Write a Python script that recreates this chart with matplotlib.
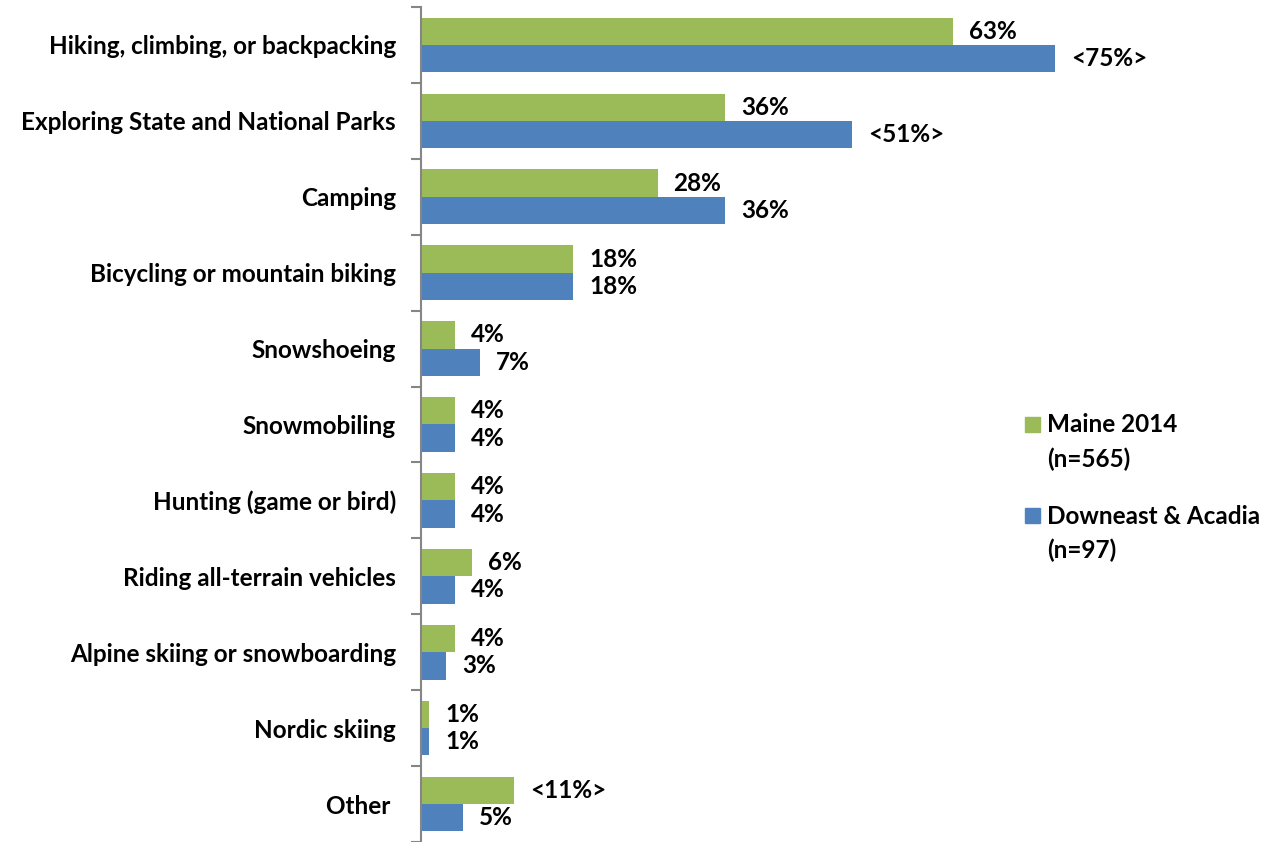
import matplotlib.pyplot as plt
import numpy as np
from matplotlib.patches import Rectangle

plt.rcParams['font.family'] = ['Lato', 'DejaVu Sans']
plt.rcParams['font.weight'] = 'bold'

# activities, top to bottom
activities = [
    'Hiking, climbing, or backpacking',
    'Exploring State and National Parks',
    'Camping',
    'Bicycling or mountain biking',
    'Snowshoeing',
    'Snowmobiling',
    'Hunting (game or bird)',
    'Riding all-terrain vehicles',
    'Alpine skiing or snowboarding',
    'Nordic skiing',
    'Other ',
]
maine = [63, 36, 28, 18, 4, 4, 4, 6, 4, 1, 11]
downeast = [75, 51, 36, 18, 7, 4, 4, 4, 3, 1, 5]
# significant differences are shown as <xx%>
maine_sig = [False, False, False, False, False, False, False, False, False, False, True]
downeast_sig = [True, True, False, False, False, False, False, False, False, False, False]

green = '#9BBB59'
blue = '#4F81BD'
fs = 17.5

fig = plt.figure(figsize=(12.66, 8.42), dpi=100)
ax = fig.add_axes([421 / 1266, 0.0, 845 / 1266, 835 / 842])

n = len(activities)
y = np.arange(n)
h = 0.36

ax.barh(y - h / 2, maine, height=h, color=green, edgecolor='none')
ax.barh(y + h / 2, downeast, height=h, color=blue, edgecolor='none')


def fmt(v, sig):
    s = f'{v}%'
    return f'<{s}>' if sig else s


for i in range(n):
    ax.annotate(fmt(maine[i], maine_sig[i]), xy=(maine[i], y[i] - h / 2),
                xytext=(11.5, 0), textcoords='offset points', va='center',
                ha='left', fontsize=fs, fontweight='bold')
    ax.annotate(fmt(downeast[i], downeast_sig[i]), xy=(downeast[i], y[i] + h / 2),
                xytext=(11.5, 0), textcoords='offset points', va='center',
                ha='left', fontsize=fs, fontweight='bold')

ax.set_xlim(0, 100)
ax.set_ylim(n - 0.5, -0.5)
ax.set_yticks(y)
ax.set_yticklabels(activities, fontsize=fs, fontweight='bold')
ax.set_yticks(np.arange(n + 1) - 0.5, minor=True)
ax.tick_params(axis='y', which='major', length=0, pad=18)
ax.tick_params(axis='y', which='minor', length=7, width=1.5, color='#868686')
ax.set_xticks([])
for s in ['top', 'right', 'bottom']:
    ax.spines[s].set_visible(False)
ax.spines['left'].set_color('#868686')
ax.spines['left'].set_linewidth(1.5)

# legend drawn by hand so the swatch sits on the first line
legend_items = [('Maine 2014', '(n=565)', green, 425),
                ('Downeast & Acadia', '(n=97)', blue, 516)]
for name, size, col, ypx in legend_items:
    fig.patches.append(Rectangle((1025 / 1266, 1 - (ypx + 7) / 842), 15 / 1266, 15 / 842,
                                 transform=fig.transFigure, color=col))
    fig.text(1047 / 1266, 1 - ypx / 842, name, fontsize=fs, fontweight='bold', va='center')
    fig.text(1047 / 1266, 1 - (ypx + 34) / 842, size, fontsize=fs, fontweight='bold', va='center')

fig.savefig('out.png', dpi=100)
